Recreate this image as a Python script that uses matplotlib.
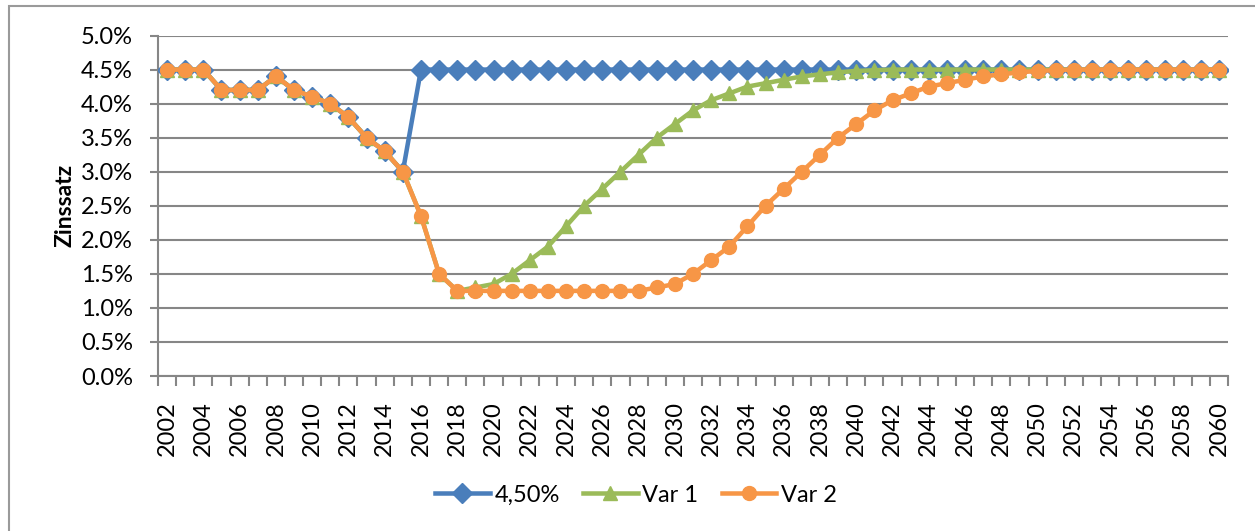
import numpy as np
import matplotlib
matplotlib.use("Agg")
import matplotlib.pyplot as plt
from matplotlib.ticker import FuncFormatter, FixedLocator
from matplotlib.patches import Rectangle

plt.rcParams['font.family'] = ['Lato', 'DejaVu Sans']

# Jahre 2002..2060
years = list(range(2002, 2061))

# gemeinsamer Verlauf bis 2015
hist = [4.5, 4.5, 4.5, 4.2, 4.2, 4.2, 4.4, 4.2, 4.1, 4.0, 3.8, 3.5, 3.3, 3.0]

# Szenario 4,50%: ab 2016 konstant
fix_rate = hist + [4.5] * 45

# Var 1
var1 = hist + [2.35, 1.5, 1.25, 1.3, 1.35, 1.5, 1.7, 1.9, 2.2, 2.5, 2.75, 3.0,
               3.25, 3.5, 3.7, 3.9, 4.05, 4.15, 4.25, 4.3, 4.35, 4.4, 4.43,
               4.46, 4.48, 4.49] + [4.5] * 19

# Var 2 (gleicher Anstieg, 10 Jahre spaeter)
var2 = hist + [2.35, 1.5] + [1.25] * 11 + [1.3, 1.35, 1.5, 1.7, 1.9, 2.2, 2.5,
               2.75, 3.0, 3.25, 3.5, 3.7, 3.9, 4.05, 4.15, 4.25, 4.3, 4.35,
               4.4, 4.43, 4.46, 4.48, 4.49] + [4.5] * 9

labels = ['4,50%', 'Var 1', 'Var 2']
colors = ['#4a7ebb', '#9bbb59', '#f79646']
fs = 17

fig = plt.figure(figsize=(12.55, 5.31), dpi=100)
ax = fig.add_axes([0.1259, 0.2919, 0.8526, 0.6412])

# Rahmen des Diagrammbereichs
fig.patches.append(Rectangle((9 / 1255, -0.1), 1.2, 1 - 6 / 531 + 0.1,
                             transform=fig.transFigure, fill=False,
                             edgecolor='#9a9a9a', lw=1.5))

x = np.arange(len(years))
ax.plot(x, fix_rate, color=colors[0], lw=3.25, marker='D', ms=10,
        label=labels[0], zorder=3)
ax.plot(x, var1, color=colors[1], lw=3.25, marker='^', ms=10,
        label=labels[1], zorder=4)
ax.plot(x, var2, color=colors[2], lw=3.25, marker='o', ms=10,
        label=labels[2], zorder=5)

ax.set_xlim(-0.5, len(years) - 0.5)
ax.set_ylim(0, 5.0)
ax.set_yticks(np.arange(0, 5.01, 0.5))
ax.yaxis.set_major_formatter(FuncFormatter(lambda v, p: f'{v:.1f}%'))
ax.grid(axis='y', color='#868686', lw=1.5)
ax.set_axisbelow(True)

# Beschriftung jedes zweite Jahr, Striche an Kategoriegrenzen
ax.xaxis.set_major_locator(FixedLocator(x[::2]))
ax.set_xticklabels([str(y) for y in years[::2]], rotation=90)
ax.xaxis.set_minor_locator(FixedLocator(np.arange(-0.5, len(years), 1)))
ax.tick_params(axis='x', which='major', length=0, pad=18, labelsize=fs)
ax.tick_params(axis='x', which='minor', length=7, width=1.5, color='#868686',
               direction='out')
ax.tick_params(axis='y', length=6, width=1.5, color='#868686', pad=12,
               labelsize=fs)

for side in ['top', 'right']:
    ax.spines[side].set_visible(False)
for side in ['left', 'bottom']:
    ax.spines[side].set_color('#868686')
    ax.spines[side].set_linewidth(1.5)

ax.set_ylabel('Zinssatz', fontsize=16.5, fontweight='bold', labelpad=4)

fig.legend(*ax.get_legend_handles_labels(), loc='center',
           bbox_to_anchor=(636 / 1255, 1 - 495 / 531), ncol=3, frameon=False,
           fontsize=fs, handlelength=2.3, columnspacing=1.0,
           handletextpad=0.2)

fig.savefig('out.png', dpi=100)
